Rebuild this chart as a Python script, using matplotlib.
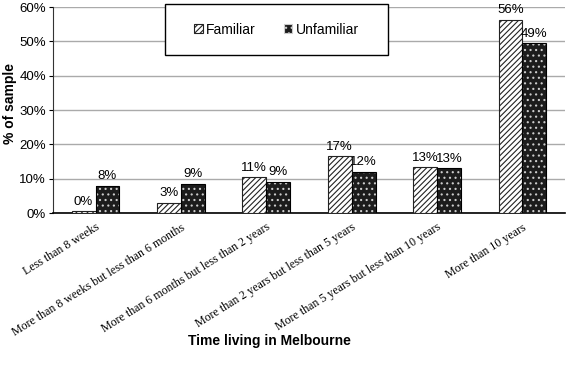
import numpy as np
import matplotlib.pyplot as plt
from matplotlib.patches import Patch, Rectangle

categories = ['Less than 8 weeks',
              'More than 8 weeks but less than 6 months',
              'More than 6 months but less than 2 years',
              'More than 2 years but less than 5 years',
              'More than 5 years but less than 10 years',
              'More than 10 years']
familiar = [0.5, 3.0, 10.5, 16.6, 13.3, 56.3]
unfamiliar = [7.9, 8.5, 9.1, 12.0, 13.1, 49.5]
familiar_labels = ['0%', '3%', '11%', '17%', '13%', '56%']
unfamiliar_labels = ['8%', '9%', '9%', '12%', '13%', '49%']
yticks = [0, 10, 20, 30, 40, 50, 60]

plt.rcParams['font.family'] = 'Liberation Sans'
plt.rcParams['hatch.linewidth'] = 0.8

fig = plt.figure(figsize=(5.68, 3.75), dpi=100)
ax = fig.add_axes([0.093, 0.432, 0.902, 0.549])

x = np.arange(len(categories))
w = 0.28

# familiar: white with diagonal hatch
ax.bar(x - w / 2, familiar, w, color='white', edgecolor='#222222',
       hatch='//////', linewidth=0.8, zorder=3)
# unfamiliar: dark with white dots, then a black outline on top
ax.bar(x + w / 2, unfamiliar, w, color='#1c1c1c', edgecolor='#cccccc',
       hatch='...', linewidth=0, zorder=3)
ax.bar(x + w / 2, unfamiliar, w, fill=False, edgecolor='black',
       linewidth=0.8, zorder=4)

for i in range(len(categories)):
    ax.text(x[i] - w / 2, familiar[i] + 1.0, familiar_labels[i],
            ha='center', va='bottom', fontsize=9.5)
    ax.text(x[i] + w / 2, unfamiliar[i] + 1.0, unfamiliar_labels[i],
            ha='center', va='bottom', fontsize=9.5)

ax.set_xlim(-0.5, len(categories) - 0.5)
ax.set_ylim(0, 60)
ax.set_yticks(yticks)
ax.set_yticklabels([f'{t}%' for t in yticks], fontsize=9.5)
ax.yaxis.grid(True, color='#aaaaaa', linewidth=1)
ax.set_axisbelow(True)

ax.set_xticks(x)
ax.set_xticklabels(categories, rotation=32, ha='right', va='top',
                   rotation_mode='anchor', family='Liberation Serif', fontsize=8.6)
ax.tick_params(axis='x', length=0, pad=6)
ax.tick_params(axis='y', length=3, pad=2)

for s in ['top', 'right']:
    ax.spines[s].set_visible(False)
ax.spines['left'].set_color('#333333')
ax.spines['bottom'].set_linewidth(1.2)

fig.text(0.018, 0.725, '% of sample', rotation=90, ha='center', va='center',
         fontsize=10, fontweight='bold')
fig.text(0.475, 0.09, 'Time living in Melbourne', ha='center', va='center',
         fontsize=10, fontweight='bold')

# legend box drawn separately so the entries sit in the middle of it
box = Rectangle((0.2905, 0.8533), 0.3926, 0.136, transform=fig.transFigure,
                facecolor='white', edgecolor='black', linewidth=1.0, zorder=5)
fig.patches.append(box)

handles = [Patch(facecolor='white', edgecolor='#222222', hatch='//////', linewidth=0.8),
           Patch(facecolor='#1c1c1c', edgecolor='#cccccc', hatch='...', linewidth=0.8)]
leg = fig.legend(handles, ['Familiar', 'Unfamiliar'], ncol=2, loc='center',
                 bbox_to_anchor=(0.4868, 0.921), frameon=False, fontsize=10,
                 handlelength=0.6, handleheight=0.6, handletextpad=0.25,
                 columnspacing=2.0)
leg.set_zorder(6)

fig.savefig('out.png', dpi=100)
